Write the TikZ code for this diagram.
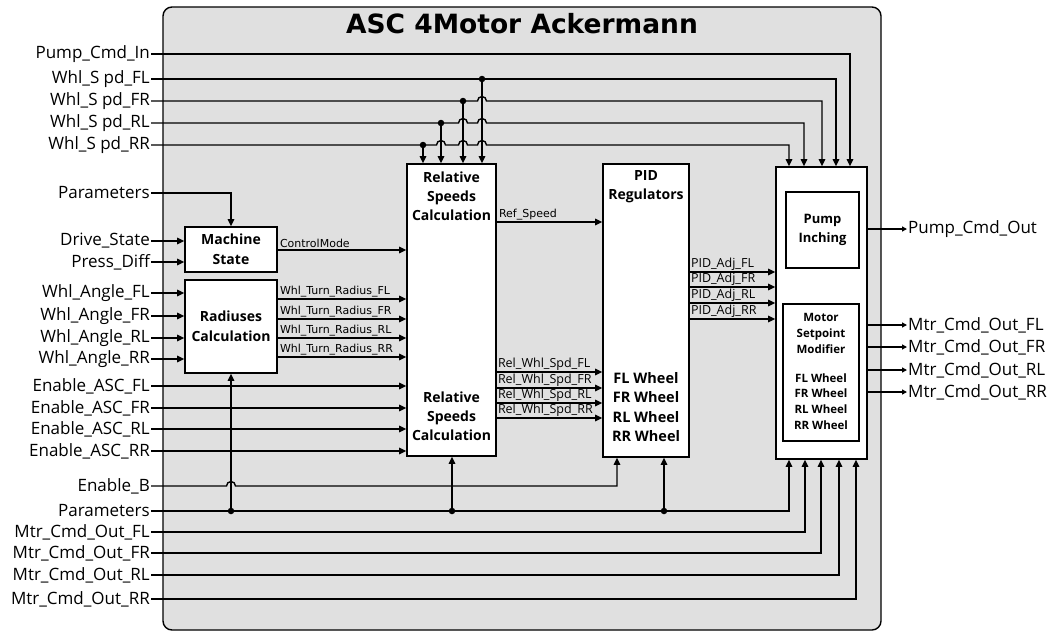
\documentclass[tikz,border=0pt]{standalone}
\usepackage{fontspec}
\setmainfont{Open Sans}
\newfontfamily\sigfont{DejaVu Sans}
\usetikzlibrary{arrows.meta, positioning, calc}

\begin{document}
\begin{tikzpicture}[
    x=1pt, y=-1pt,
    frame/.style={rectangle, rounded corners=9pt, draw=black, line width=1.4pt, fill=black!12, minimum width=718, minimum height=623},
    block/.style={rectangle, draw=black, line width=1.6pt, fill=white, align=center, font=\fontsize{14}{20}\selectfont\bfseries},
    inner/.style={rectangle, draw=black, line width=1.6pt, fill=white, align=center},
    btext/.style={align=center, inner sep=0pt},
    inlabel/.style={anchor=east, inner sep=1pt, font=\fontsize{17}{19}\selectfont},
    outlabel/.style={anchor=west, inner sep=1pt, font=\fontsize{17}{19}\selectfont},
    sig/.style={anchor=south west, inner sep=1.5pt, font=\sigfont\fontsize{11}{12}\selectfont},
    sigb/.style={anchor=south west, inner sep=0.5pt, font=\fontsize{12.5}{13}\selectfont},
    wire/.style={line width=1.4pt},
    arrow/.style={wire, -{Triangle[length=7pt, width=6.5pt]}},
    outarrow/.style={wire, -{Triangle[length=5pt, width=5pt]}},
    dot/.style={circle, fill=black, inner sep=0pt, minimum size=6.5pt}
]
    \useasboundingbox (0,0) rectangle (1064,632);

    \node[frame] (asc) at (522,318.5) {};
    \node[font=\sigfont\fontsize{26.5}{29}\selectfont\bfseries, inner sep=0pt, anchor=base] (title) at (522,33) {ASC 4Motor Ackermann};

    % inputs
    \node[inlabel] (in-pump) at (151,54) {Pump\_Cmd\_In};
    \node[inlabel] (in-sfl) at (151,79) {Whl\_S pd\_FL};
    \node[inlabel] (in-sfr) at (151,101) {Whl\_S pd\_FR};
    \node[inlabel] (in-srl) at (151,123) {Whl\_S pd\_RL};
    \node[inlabel] (in-srr) at (151,145) {Whl\_S pd\_RR};
    \node[inlabel] (in-par) at (151,193) {Parameters};
    \node[inlabel] (in-drive) at (151,241) {Drive\_State};
    \node[inlabel] (in-press) at (151,262) {Press\_Diff};
    \node[inlabel] (in-afl) at (151,293) {Whl\_Angle\_FL};
    \node[inlabel] (in-afr) at (151,316) {Whl\_Angle\_FR};
    \node[inlabel] (in-arl) at (151,338) {Whl\_Angle\_RL};
    \node[inlabel] (in-arr) at (151,359) {Whl\_Angle\_RR};
    \node[inlabel] (in-efl) at (151,386) {Enable\_ASC\_FL};
    \node[inlabel] (in-efr) at (151,408) {Enable\_ASC\_FR};
    \node[inlabel] (in-erl) at (151,429) {Enable\_ASC\_RL};
    \node[inlabel] (in-err) at (151,451) {Enable\_ASC\_RR};
    \node[inlabel] (in-enb) at (151,486) {Enable\_B};
    \node[inlabel] (in-par2) at (151,511) {Parameters};
    \node[inlabel] (in-mfl) at (151,532) {Mtr\_Cmd\_Out\_FL};
    \node[inlabel] (in-mfr) at (151,553) {Mtr\_Cmd\_Out\_FR};
    \node[inlabel] (in-mrl) at (151,575) {Mtr\_Cmd\_Out\_RL};
    \node[inlabel] (in-mrr) at (151,599) {Mtr\_Cmd\_Out\_RR};

    % blocks
    \node[block, minimum width=92, minimum height=45] (ms) at (231,249.5) {Machine\\State};
    \node[block, minimum width=92, minimum height=93] (rc) at (231,326.5) {Radiuses\\Calculation};
    \node[block, minimum width=89, minimum height=292] (rs) at (451.5,310) {};
    \node[block, minimum width=86, minimum height=293] (pid) at (646,310.5) {};
    \node[block, minimum width=91, minimum height=292] (rb) at (821.5,313) {};
    \node[inner, minimum width=73, minimum height=76, font=\fontsize{13}{19}\selectfont\bfseries] (pi) at (822.5,230) {Pump\\Inching};
    \node[inner, minimum width=76, minimum height=137] (msm) at (821,372.5) {};

    \node[btext, font=\fontsize{14}{19}\selectfont\bfseries] (rs-top) at (451.5,196) {Relative\\Speeds\\Calculation};
    \node[btext, font=\fontsize{14}{19}\selectfont\bfseries] (rs-bot) at (451.5,416) {Relative\\Speeds\\Calculation};
    \node[btext, font=\fontsize{14}{19}\selectfont\bfseries] (pid-top) at (646,186.5) {PID\\Regulators};
    \node[btext, font=\fontsize{14.5}{19.3}\selectfont\bfseries] (pid-bot) at (646,407) {FL Wheel\\FR Wheel\\RL Wheel\\RR Wheel};
    \node[btext, font=\fontsize{11.5}{16}\selectfont\bfseries] (msm-top) at (821,333) {Motor\\Setpoint\\Modifier};
    \node[btext, font=\fontsize{11.5}{15.7}\selectfont\bfseries] (msm-bot) at (821,401.5) {FL Wheel\\FR Wheel\\RL Wheel\\RR Wheel};

    % outputs
    \node[outlabel] (out-pump) at (907,229) {Pump\_Cmd\_Out};
    \node[outlabel] (out-fl) at (907,325) {Mtr\_Cmd\_Out\_FL};
    \node[outlabel] (out-fr) at (907,347) {Mtr\_Cmd\_Out\_FR};
    \node[outlabel] (out-rl) at (907,370) {Mtr\_Cmd\_Out\_RL};
    \node[outlabel] (out-rr) at (907,392) {Mtr\_Cmd\_Out\_RR};

    % junctions
    \coordinate (j-sfl) at (482,79);
    \coordinate (j-sfr) at (463,101);
    \coordinate (j-srl) at (441,123);
    \coordinate (j-srr) at (423,145);
    \coordinate (j-prc) at (231,511);
    \coordinate (j-prs) at (452,511);
    \coordinate (j-ppid) at (664,511);

    % top wheel speed bus
    \draw[arrow] (in-pump.east) -- (850,54) -- (rb.north -| 850,0);
    \draw[arrow] (in-sfl.east) -- (836,79) -- (rb.north -| 836,0);
    \draw[arrow] (in-sfr.east) -- (477.5,101) arc[start angle=180, end angle=360, radius=4.5]
        -- (822,101) -- (rb.north -| 822,0);
    \draw[arrow] (in-srl.east) -- (458.5,123) arc[start angle=180, end angle=360, radius=4.5]
        -- (477.5,123) arc[start angle=180, end angle=360, radius=4.5]
        -- (804,123) -- (rb.north -| 804,0);
    \draw[arrow] (in-srr.east) -- (436.5,145) arc[start angle=180, end angle=360, radius=4.5]
        -- (458.5,145) arc[start angle=180, end angle=360, radius=4.5]
        -- (477.5,145) arc[start angle=180, end angle=360, radius=4.5]
        -- (789,145) -- (rb.north -| 789,0);
    \foreach \j in {j-sfl, j-sfr, j-srl, j-srr} {
        \draw[arrow] (\j) -- (rs.north -| \j);
        \node[dot] at (\j) {};
    }

    % left inputs
    \draw[arrow] (in-par.east) -- (ms.north |- in-par) -- (ms.north);
    \draw[arrow] (in-drive.east) -- (in-drive -| ms.west);
    \draw[arrow] (in-press.east) -- (in-press -| ms.west);
    \foreach \a in {in-afl, in-afr, in-arl, in-arr}
        \draw[arrow] (\a.east) -- (\a -| rc.west);
    \foreach \e in {in-efl, in-efr, in-erl, in-err}
        \draw[arrow] (\e.east) -- (\e -| rs.west);

    % internal signals
    \draw[arrow] (ms.east |- 0,250) -- node[sig, pos=0] {ControlMode} (rs.west |- 0,250);
    \draw[arrow] (rc.east |- 0,299) -- node[sig, pos=0] {Whl\_Turn\_Radius\_FL} (rs.west |- 0,299);
    \draw[arrow] (rc.east |- 0,319) -- node[sig, pos=0] {Whl\_Turn\_Radius\_FR} (rs.west |- 0,319);
    \draw[arrow] (rc.east |- 0,338) -- node[sig, pos=0] {Whl\_Turn\_Radius\_RL} (rs.west |- 0,338);
    \draw[arrow] (rc.east |- 0,357) -- node[sig, pos=0] {Whl\_Turn\_Radius\_RR} (rs.west |- 0,357);
    \draw[arrow] (rs.east |- 0,222) -- node[sig, pos=0] {Ref\_Speed} (pid.west |- 0,222);
    \draw[arrow] (rs.east |- 0,372) -- node[sigb, pos=0] {Rel\_Whl\_Spd\_FL} (pid.west |- 0,372);
    \draw[arrow] (rs.east |- 0,388) -- node[sigb, pos=0] {Rel\_Whl\_Spd\_FR} (pid.west |- 0,388);
    \draw[arrow] (rs.east |- 0,403) -- node[sigb, pos=0] {Rel\_Whl\_Spd\_RL} (pid.west |- 0,403);
    \draw[arrow] (rs.east |- 0,418) -- node[sigb, pos=0] {Rel\_Whl\_Spd\_RR} (pid.west |- 0,418);
    \draw[arrow] (pid.east |- 0,272) -- node[sigb, pos=0] {PID\_Adj\_FL} (rb.west |- 0,272);
    \draw[arrow] (pid.east |- 0,287) -- node[sigb, pos=0] {PID\_Adj\_FR} (rb.west |- 0,287);
    \draw[arrow] (pid.east |- 0,303) -- node[sigb, pos=0] {PID\_Adj\_RL} (rb.west |- 0,303);
    \draw[arrow] (pid.east |- 0,319) -- node[sigb, pos=0] {PID\_Adj\_RR} (rb.west |- 0,319);

    % bottom bus
    \draw[arrow] (in-enb.east) -- (226.5,486) arc[start angle=180, end angle=360, radius=4.5]
        -- (617,486) -- (pid.south -| 617,0);
    \draw[arrow] (in-par2.east) -- (789,511) -- (rb.south -| 789,0);
    \draw[arrow] (j-prc) -- (rc.south);
    \draw[arrow] (j-prs) -- (rs.south -| j-prs);
    \draw[arrow] (j-ppid) -- (pid.south -| j-ppid);
    \foreach \j in {j-prc, j-prs, j-ppid}
        \node[dot] at (\j) {};
    \draw[arrow] (in-mfl.east) -- (805,532) -- (rb.south -| 805,0);
    \draw[arrow] (in-mfr.east) -- (821,553) -- (rb.south -| 821,0);
    \draw[arrow] (in-mrl.east) -- (839,575) -- (rb.south -| 839,0);
    \draw[arrow] (in-mrr.east) -- (856,599) -- (rb.south -| 856,0);

    % outputs
    \foreach \o in {out-pump, out-fl, out-fr, out-rl, out-rr}
        \draw[outarrow] (rb.east |- \o) -- (\o.west);

\end{tikzpicture}
\end{document}
